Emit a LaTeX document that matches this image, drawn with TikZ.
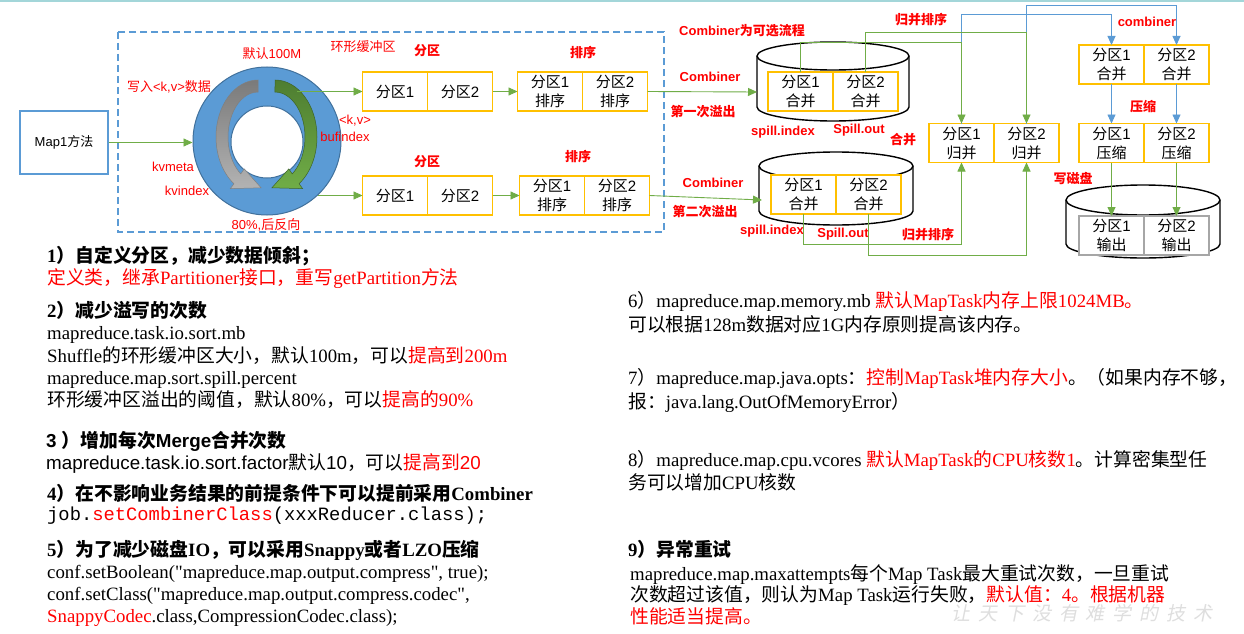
\documentclass[tikz,border=0pt]{standalone}
\usepackage{fontspec}
\setmainfont{Liberation Serif}
\newfontfamily\cjk{Noto Sans CJK SC}
\newfontfamily\arialf{Liberation Sans}
\newfontfamily\courf{Liberation Mono}
\newfontfamily\qserif{Liberation Serif}[Ligatures=TeXOff]
\newfontfamily\wmark{Noto Sans CJK SC}[LetterSpace=42, FakeSlant=0.2]
\newcommand\zh[1]{{\cjk #1}}
\usetikzlibrary{positioning, arrows.meta}
\definecolor{ringblue}{HTML}{5B9BD5}
\definecolor{ringedge}{HTML}{41719C}
\definecolor{cellorange}{HTML}{FFC000}
\definecolor{lgreen}{HTML}{70AD47}
\definecolor{dgreen}{HTML}{4E7D31}
\definecolor{outgray}{HTML}{A6A6A6}
\definecolor{topteal}{HTML}{A3D6D9}

\begin{document}
\begin{tikzpicture}[x=1pt, y=-1pt,
  cell/.style={draw=cellorange, line width=1.6pt, fill=white, outer sep=0pt,
    inner sep=0pt, minimum width=65pt, minimum height=39pt, align=center,
    font=\fontsize{15}{19}\selectfont\arialf},
  lbl/.style={text=red, inner sep=0pt, font=\fontsize{13}{15}\selectfont\arialf\bfseries},
  note/.style={text=red, inner sep=0pt, font=\fontsize{13}{15}\selectfont\arialf},
  txt/.style={anchor=base west, inner sep=0pt, font=\fontsize{18.8}{22}\selectfont},
  garr/.style={draw=lgreen, line width=0.9pt, -{Triangle[length=9pt, width=8pt]}},
  barr/.style={draw=ringblue, line width=0.9pt, -{Triangle[length=9pt, width=8pt]}},
  drum/.style={draw=black, fill=white, line width=1.4pt}]
\useasboundingbox (0,0) rectangle (1244,634);
\fill[white] (0,0) rectangle (1244,634);
\draw[topteal, line width=1.5pt] (0,1) -- (1244,1);

% ring buffer
\draw[ringblue, line width=1.2pt, dash pattern=on 7pt off 4pt] (118,32) rectangle (664,232);
\node[draw=ringblue, line width=1.5pt, minimum width=88pt, minimum height=63pt,
  font=\fontsize{13}{15}\selectfont\arialf] (map) at (64,142.5) {Map1\zh{方法}};
\node[circle, draw=ringedge, fill=ringblue, line width=1pt, minimum size=148pt, inner sep=0pt] (ring) at (267,141) {};
\node[circle, draw=ringedge, fill=white, line width=1pt, minimum size=72pt, inner sep=0pt] (hole) at (267,142) {};
\shade[top color=black!52, bottom color=black!30, draw=black!50, line width=0.5pt]
  (258,80) arc[start angle=90, end angle=235, x radius=42pt, y radius=57pt]
  -- (230.4,188.6) -- (261.1,187.8) -- (244.2,168.9) -- (240.8,173.9)
  arc[start angle=235, end angle=90, x radius=30pt, y radius=45pt] -- cycle;
\shade[top color=dgreen, bottom color=lgreen, draw=dgreen!80!black, line width=0.5pt]
  (275,80) arc[start angle=90, end angle=-55, x radius=42pt, y radius=57pt]
  -- (302.6,188.6) -- (271.9,187.8) -- (288.8,168.9) -- (292.2,173.9)
  arc[start angle=-55, end angle=90, x radius=30pt, y radius=45pt] -- cycle;

\node[note] (size) at (272,54) {\zh{默认}100M};
\node[note] (bufname) at (363,47) {\zh{环形缓冲区}};
\node[note] (write) at (169,87) {\zh{写入}<k,v>\zh{数据}};
\node[note] (kv) at (355,121) {<k,v>};
\node[note] (bufidx) at (345,137) {bufindex};
\node[note] (kvmeta) at (173,167) {kvmeta};
\node[note] (kvidx) at (187,191) {kvindex};
\node[note] (pct) at (266,225) {80\%,\zh{后反向}};

% partition and sort
\node[cell] (p1a) at (395,91.5) {\zh{分区}1};
\node[cell, right=0pt of p1a] (p1b) {\zh{分区}2};
\node[cell] (p2a) at (395,195.5) {\zh{分区}1};
\node[cell, right=0pt of p2a] (p2b) {\zh{分区}2};
\node[cell] (s1a) at (550,91.5) {\zh{分区}1\\\zh{排序}};
\node[cell, right=0pt of s1a] (s1b) {\zh{分区}2\\\zh{排序}};
\node[cell] (s2a) at (552,195.5) {\zh{分区}1\\\zh{排序}};
\node[cell, right=0pt of s2a] (s2b) {\zh{分区}2\\\zh{排序}};
\node[lbl] (part1) at (427,51) {\zh{分区}};
\node[lbl] (part2) at (427,162) {\zh{分区}};
\node[lbl] (sort1) at (583,53) {\zh{排序}};
\node[lbl] (sort2) at (578,157) {\zh{排序}};

\coordinate (bufout) at (297,91.5);
\coordinate (kvout) at (318,195.5);
\draw[garr] (map.east) -- (map.east -| ring.west);
\draw[garr] (bufout) -- (p1a.west);
\draw[garr] (kvout) -- (p2a.west);
\draw[garr] (p1b.east) -- (s1a.west);
\draw[garr] (p2b.east) -- (s2a.west);

% spill files
\filldraw[drum] (757,56) -- (757,107) arc[start angle=180, end angle=360, x radius=76pt, y radius=14pt]
  -- (909,56) arc[start angle=0, end angle=180, x radius=76pt, y radius=14pt] -- cycle;
\draw[drum, fill=none] (757,56) arc[start angle=180, end angle=360, x radius=76pt, y radius=14pt];
\filldraw[drum] (759,166) -- (759,211) arc[start angle=180, end angle=360, x radius=77pt, y radius=14pt]
  -- (913,166) arc[start angle=0, end angle=180, x radius=77pt, y radius=14pt] -- cycle;
\draw[drum, fill=none] (759,166) arc[start angle=180, end angle=360, x radius=77pt, y radius=14pt];
\filldraw[drum] (1066,200) -- (1066,244) arc[start angle=180, end angle=360, x radius=77pt, y radius=14pt]
  -- (1220,200) arc[start angle=0, end angle=180, x radius=77pt, y radius=15pt] -- cycle;
\draw[drum, fill=none] (1066,200) arc[start angle=180, end angle=360, x radius=77pt, y radius=15pt];

\node[cell] (c1a) at (800.5,91.5) {\zh{分区}1\\\zh{合并}};
\node[cell, right=0pt of c1a] (c1b) {\zh{分区}2\\\zh{合并}};
\node[cell] (c2a) at (803.5,194.5) {\zh{分区}1\\\zh{合并}};
\node[cell, right=0pt of c2a] (c2b) {\zh{分区}2\\\zh{合并}};

\coordinate (cyl1in) at (757,92);
\coordinate (cyl2in) at (762,200);
\draw[garr] (s1b.east) -- (cyl1in);
\draw[garr] (s2b.east) -- (cyl2in);
\node[lbl] (optional) at (742,31) {Combiner\zh{为可选流程}};
\node[lbl] (comb1) at (710,77) {Combiner};
\node[lbl] (spill1) at (703,112) {\zh{第一次溢出}};
\node[lbl] (comb2) at (713,183) {Combiner};
\node[lbl] (spill2) at (705,212) {\zh{第二次溢出}};
\node[lbl] (idx1) at (783,132) {spill.index};
\node[lbl] (out1) at (859,130) {Spill.out};
\node[lbl] (idx2) at (772,231) {spill.index};
\node[lbl] (out2) at (843,234) {Spill.out};
\node[lbl] (merge) at (903,140) {\zh{合并}};

% merge, combine, compress, output
\node[cell] (ma) at (961.5,143) {\zh{分区}1\\\zh{归并}};
\node[cell, right=0pt of ma] (mb) {\zh{分区}2\\\zh{归并}};
\node[cell] (ka) at (1111.5,64.5) {\zh{分区}1\\\zh{合并}};
\node[cell, right=0pt of ka] (kb) {\zh{分区}2\\\zh{合并}};
\node[cell] (za) at (1111.5,143) {\zh{分区}1\\\zh{压缩}};
\node[cell, right=0pt of za] (zb) {\zh{分区}2\\\zh{压缩}};
\node[cell, draw=outgray] (oa) at (1111.5,235.5) {\zh{分区}1\\\zh{输出}};
\node[cell, draw=outgray, right=0pt of oa] (ob) {\zh{分区}2\\\zh{输出}};

\draw[barr] (ma.north) -- ++(0,-109) -| (ka.north);
\draw[barr] (mb.north) -- ++(0,-118) -| (kb.north);
\draw[garr] (c1a.north) -- ++(0,-30) -| (ma.north);
\draw[garr] (c1b.north) -- ++(0,-40) -| (mb.north);
\draw[garr] (c2a.south) -- ++(0,30) -| (ma.south);
\draw[garr] (c2b.south) -- ++(0,41) -| (mb.south);
\draw[barr] (ka.south) -- (za.north);
\draw[barr] (kb.south) -- (zb.north);
\draw[garr] (za.south) -- (oa.north);
\draw[garr] (zb.south) -- (ob.north);

\node[lbl] (msort1) at (921,20) {\zh{归并排序}};
\node[lbl] (msort2) at (928,235) {\zh{归并排序}};
\node[lbl] (combr) at (1147,22) {combiner};
\node[lbl] (zip) at (1143,107) {\zh{压缩}};
\node[lbl] (disk) at (1073,178) {\zh{写磁盘}};

% tuning notes, left
\node[txt] (l1) at (47,262) {\bfseries 1\zh{）自定义分区，减少数据倾斜；}};
\node[txt, text=red] (l2) at (47,284) {\zh{定义类，继承}Partitioner\zh{接口，重写}getPartition\zh{方法}};
\node[txt] (l3) at (47,317.5) {\bfseries 2\zh{）减少溢写的次数}};
\node[txt] (l4) at (47,339) {mapreduce.task.io.sort.mb};
\node[txt] (l5) at (47,362) {Shuffle\zh{的环形缓冲区大小，默认}100m\zh{，可以}{\color{red}\zh{提高到}200m}};
\node[txt] (l6) at (47,384) {mapreduce.map.sort.spill.percent};
\node[txt] (l7) at (47,406.5) {\zh{环形缓冲区溢出的阈值，默认}80\%\zh{，可以}{\color{red}\zh{提高的}90\%}};
\node[txt] (l8) at (46,447) {\arialf\bfseries 3 \zh{）增加每次}Merge\zh{合并次数}};
\node[txt] (l9) at (46,469.5) {\arialf mapreduce.task.io.sort.factor\zh{默认}10\zh{，可以}{\color{red}\zh{提高到}20}};
\node[txt] (l10) at (47,500.5) {\bfseries 4\zh{）在不影响业务结果的前提条件下可以提前采用}Combiner};
\node[txt] (l11) at (47,520) {\courf job.{\color{red}setCombinerClass}(xxxReducer.class);};
\node[txt] (l12) at (47,556.5) {\bfseries 5\zh{）为了减少磁盘}IO\zh{，可以采用}Snappy\zh{或者}LZO\zh{压缩}};
\node[txt] (l13) at (47,578) {\qserif conf.setBoolean("mapreduce.map.output.compress", true);};
\node[txt] (l14) at (47,600) {\qserif conf.setClass("mapreduce.map.output.compress.codec",};
\node[txt] (l15) at (47,622) {{\color{red}SnappyCodec}.class,CompressionCodec.class);};

% tuning notes, right
\node[txt] (r1) at (628,307.5) {6\zh{）}mapreduce.map.memory.mb {\color{red}\zh{默认}MapTask\zh{内存上限}1024MB\zh{。}}};
\node[txt] (r2) at (628,331) {\zh{可以根据}128m\zh{数据对应}1G\zh{内存原则提高该内存。}};
\node[txt] (r3) at (628,384.5) {7\zh{）}mapreduce.map.java.opts\zh{：}{\color{red}\zh{控制}MapTask\zh{堆内存大小}}\zh{。（如果内存不够，}};
\node[txt] (r4) at (628,408) {\zh{报：}java.lang.OutOfMemoryError\zh{）}};
\node[txt] (r5) at (628,466.5) {8\zh{）}mapreduce.map.cpu.vcores {\color{red}\zh{默认}MapTask\zh{的}CPU\zh{核数}1}\zh{。计算密集型任}};
\node[txt] (r6) at (628,489.5) {\zh{务可以增加}CPU\zh{核数}};
\node[txt] (r7) at (628,556.5) {\bfseries 9\zh{）异常重试}};
\node[txt] (r8) at (630,580.5) {mapreduce.map.maxattempts\zh{每个}Map Task\zh{最大重试次数，一旦重试}};
\node[txt] (r9) at (630,601.5) {\zh{次数超过该值，则认为}Map Task\zh{运行失败，}{\color{red}\zh{默认值：}4\zh{。根据机器}}};
\node[txt, text=red] (r10) at (630,623) {\zh{性能适当提高。}};
\node[text=black!13, inner sep=0pt, font=\fontsize{19}{21}\selectfont\wmark] (mark) at (1082,613) {让天下没有难学的技术};
\end{tikzpicture}
\end{document}
